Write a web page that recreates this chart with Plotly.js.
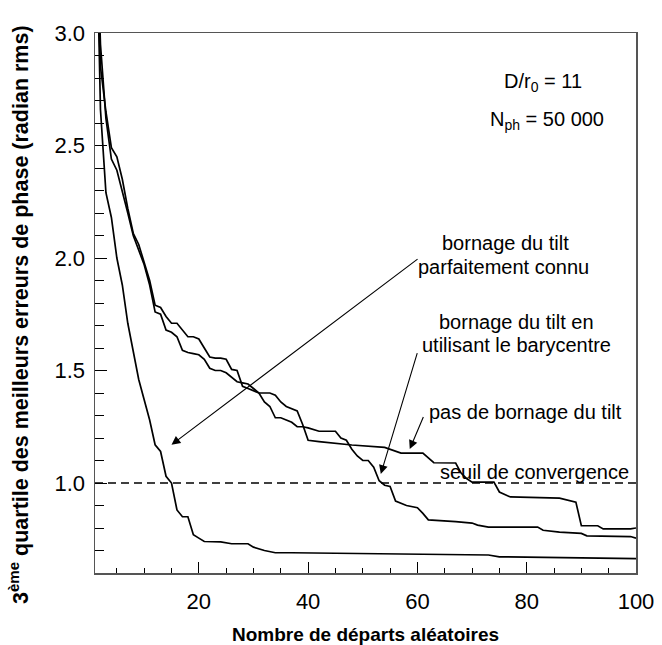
<!DOCTYPE html>
<html>
<head>
<meta charset="utf-8">
<script src="https://cdn.plot.ly/plotly-3.0.1.min.js"></script>
<style>html,body{margin:0;padding:0;background:#fff;}#chart{width:662px;height:645px;}</style>
</head>
<body>
<div id="chart"></div>
<script>
// Curve: bornage du tilt parfaitement connu
const xKnown = [1,2,3,4,5,6,7,8,9,10,11,12,13,14,15,16,17,18,19,20,21,24,26,29,30,32,34,37,50,68,73,75,100];
const yKnown = [3.8,2.66,2.29,2.18,2.0,1.88,1.71,1.59,1.46,1.37,1.28,1.17,1.14,1.03,1.0,0.88,0.85,0.85,0.77,0.755,0.74,0.738,0.73,0.73,0.715,0.70,0.69,0.69,0.686,0.683,0.68,0.672,0.664];

// Curve: bornage du tilt en utilisant le barycentre
const xBary = [1,2,3,4,5,6,7,8,9,10,11,12,13,14,15,16,17,18,19,20,21,22,23,24,25,26,27,28,29,30,31,32,33,34,35,36,37,38,39,40,42,45,46,47,48,49,50,51,52,53,54,55,56,58,60,61,62,67,70,71,73,82,83,86,90,91,99,100];
const yBary = [3.7,2.95,2.62,2.44,2.39,2.30,2.20,2.10,2.03,1.97,1.88,1.76,1.75,1.68,1.67,1.65,1.59,1.58,1.575,1.57,1.55,1.51,1.50,1.50,1.49,1.47,1.45,1.445,1.44,1.42,1.40,1.36,1.34,1.29,1.29,1.28,1.27,1.25,1.25,1.245,1.23,1.23,1.20,1.19,1.15,1.12,1.10,1.10,1.07,1.01,0.99,0.985,0.92,0.90,0.89,0.865,0.836,0.828,0.822,0.813,0.804,0.804,0.79,0.782,0.776,0.765,0.762,0.755];

// Curve: pas de bornage du tilt
const xNone = [1,2,3,4,5,6,7,8,9,10,11,12,13,14,15,16,17,18,19,20,21,22,23,24,25,26,27,28,29,30,31,32,33,34,35,36,37,38,39,40,42,48,54,56,57,61,63,67,68,69,70,74,75,77,86,89,90,93,94,99,100];
const yNone = [3.6,2.85,2.65,2.49,2.45,2.35,2.22,2.11,2.06,1.98,1.90,1.79,1.78,1.74,1.71,1.71,1.68,1.65,1.65,1.64,1.60,1.56,1.555,1.555,1.55,1.505,1.50,1.43,1.42,1.41,1.40,1.40,1.40,1.39,1.36,1.34,1.33,1.32,1.26,1.19,1.184,1.169,1.158,1.139,1.133,1.133,1.09,1.089,1.044,1.02,1.004,1.004,0.96,0.938,0.933,0.915,0.81,0.81,0.796,0.796,0.80];

// Seuil de convergence
const xSeuil = [1, 100];
const ySeuil = [1.0, 1.0];

// Tick labels
const xTickVals = [20,40,60,80,100];
const xTickText = ['20','40','60','80','100'];
const yTickVals = [1.0,1.5,2.0,2.5,3.0];
const yTickText = ['1.0','1.5','2.0','2.5','3.0'];

const FONT = 'Liberation Sans, Arial, Helvetica, sans-serif';
const lineStyle = {color:'#000', width:1.7};

const traces = [
  {x:xKnown, y:yKnown, mode:'lines', line:lineStyle, hoverinfo:'skip'},
  {x:xBary, y:yBary, mode:'lines', line:lineStyle, hoverinfo:'skip'},
  {x:xNone, y:yNone, mode:'lines', line:lineStyle, hoverinfo:'skip'},
  {x:xSeuil, y:ySeuil, mode:'lines', line:{color:'#000', width:1.4, dash:'8px,5px'}, hoverinfo:'skip'}
];

const txt = (x, y, t) => ({x:x, y:y, xref:'x', yref:'y', text:t, showarrow:false,
  xanchor:'center', yanchor:'middle', font:{family:FONT, size:20, color:'#000'}});
const arr = (x, y, ax, ay) => ({x:x, y:y, ax:ax, ay:ay, xref:'x', yref:'y', axref:'x', ayref:'y',
  text:'', showarrow:true, arrowhead:2, arrowsize:1.6, arrowwidth:1.1, arrowcolor:'#000', standoff:0, startstandoff:0});

const layout = {
  width:662, height:645,
  margin:{l:95, r:26, t:33, b:72},
  paper_bgcolor:'#fff', plot_bgcolor:'#fff',
  showlegend:false,
  font:{family:FONT, size:20, color:'#000'},
  xaxis:{
    range:[1,100], showgrid:false, zeroline:false,
    showline:true, mirror:true, linecolor:'#555', linewidth:1.5,
    tickmode:'array', tickvals:xTickVals, ticktext:xTickText,
    ticks:'inside', ticklen:11, tickwidth:1, tickcolor:'#000',
    minor:{dtick:5, tick0:0, ticks:'inside', ticklen:5, tickwidth:1, tickcolor:'#000'},
    tickfont:{family:FONT, size:22, color:'#000'},
    ticklabelstandoff:8,
    title:{text:'<b>Nombre de départs aléatoires</b>', font:{family:FONT, size:19, color:'#000'}, standoff:15}
  },
  xaxis2:{
    overlaying:'x', range:[1,100], showgrid:false, zeroline:false, showline:false,
    tickmode:'linear', tick0:0, dtick:10, ticks:'inside', ticklen:9, tickwidth:1, tickcolor:'#000',
    showticklabels:false, side:'bottom', anchor:'y'
  },
  yaxis:{
    range:[0.6,3.0], showgrid:false, zeroline:false,
    showline:true, mirror:true, linecolor:'#555', linewidth:1.5,
    tickmode:'array', tickvals:yTickVals, ticktext:yTickText,
    ticks:'inside', ticklen:12, tickwidth:1, tickcolor:'#000',
    minor:{dtick:0.1, tick0:0, ticks:'inside', ticklen:9, tickwidth:1, tickcolor:'#000'},
    tickfont:{family:FONT, size:22, color:'#000'},
    ticklabelstandoff:4
  },
  annotations:[
    {xref:'paper', yref:'paper', x:-0.1405, y:0.4796, textangle:-90, showarrow:false,
     xanchor:'center', yanchor:'middle',
     text:'<b>3<sup>ème</sup> quartile des meilleurs erreurs de phase (radian rms)</b>',
     font:{family:FONT, size:21.5, color:'#000'}},
    txt(82.9, 2.778, 'D/r<sub>0</sub> = 11'),
    txt(83.8, 2.613, 'N<sub>ph</sub> = 50 000'),
    txt(76.1, 2.067, 'bornage du tilt'),
    txt(75.8, 1.96, 'parfaitement connu'),
    txt(78.2, 1.716, 'bornage du tilt en'),
    txt(78.1, 1.613, 'utilisant le barycentre'),
    txt(79.7, 1.316, 'pas de bornage du tilt'),
    txt(81.4, 1.049, 'seuil de convergence'),
    arr(15.0, 1.17, 60.3, 2.0),
    arr(53.3, 1.04, 60.05, 1.584),
    arr(58.6, 1.151, 61.2, 1.30)
  ]
};

Plotly.newPlot('chart', traces, layout, {staticPlot:true, displayModeBar:false});
</script>
</body>
</html>
